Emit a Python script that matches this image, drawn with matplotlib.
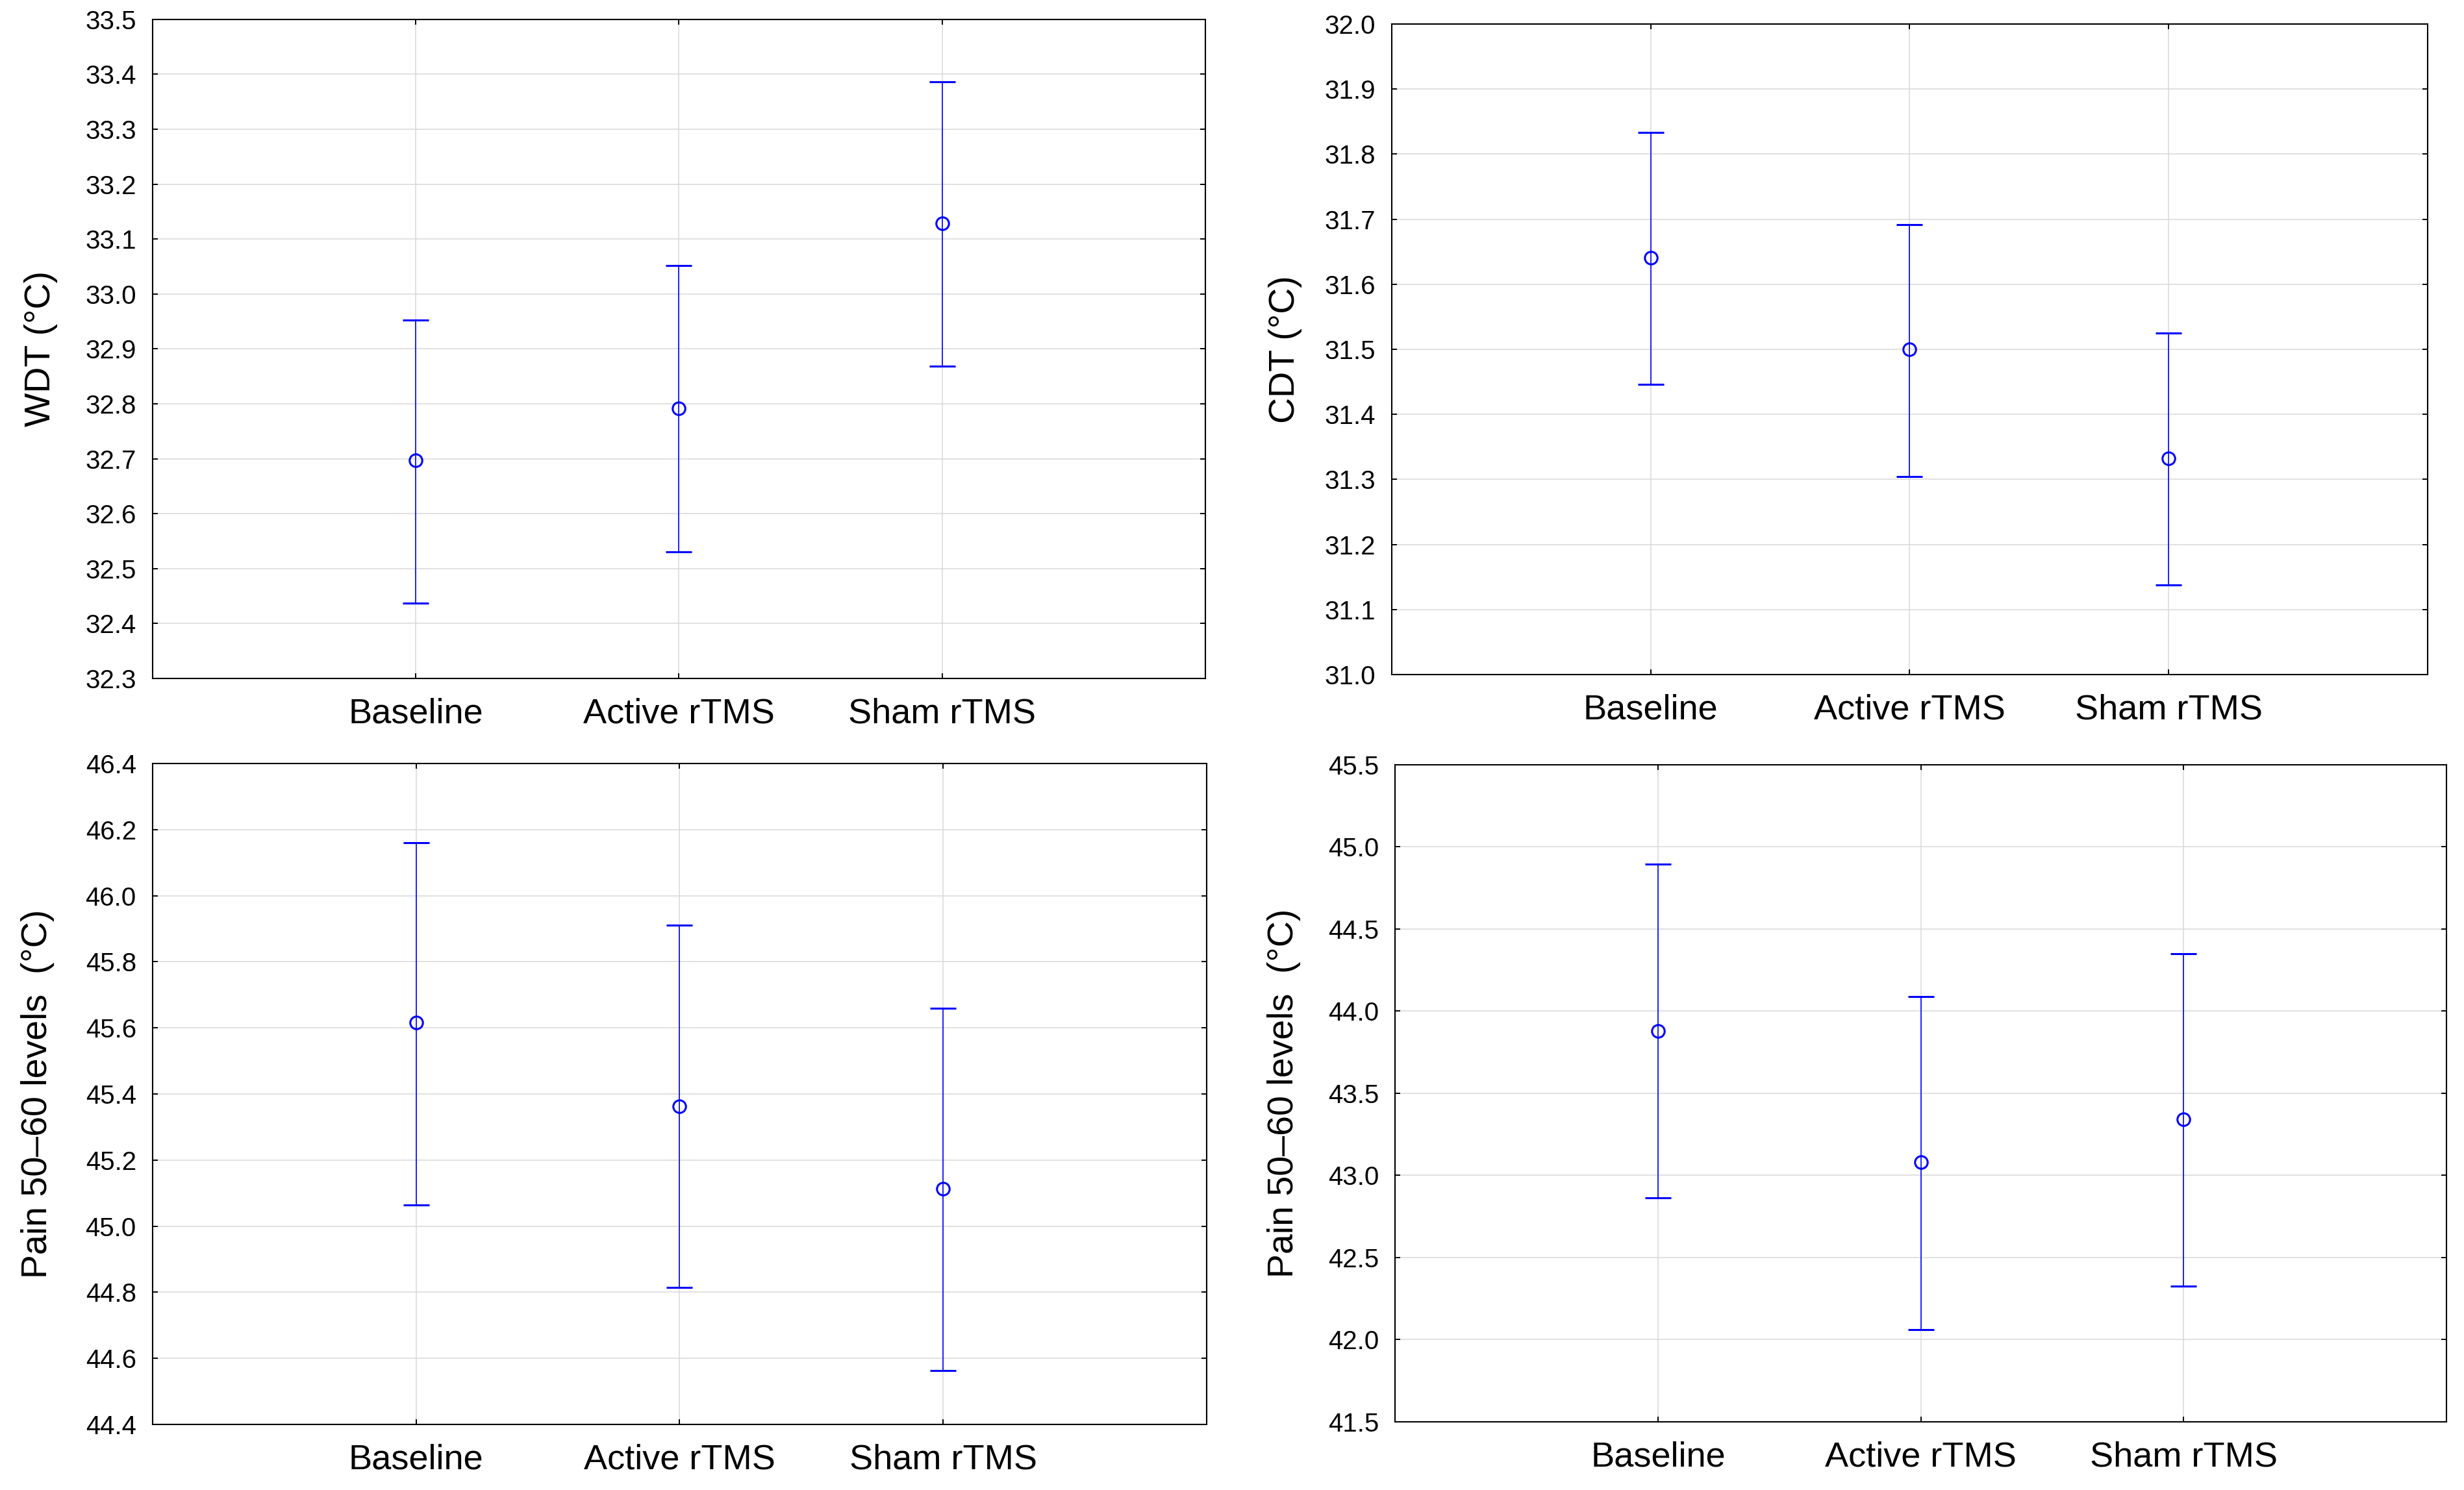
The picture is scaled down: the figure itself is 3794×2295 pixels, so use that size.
import matplotlib
matplotlib.use("Agg")
import matplotlib.pyplot as plt
import numpy as np

plt.rcParams['font.family'] = ['Liberation Sans', 'DejaVu Sans']

groups = ["Baseline", "Active rTMS", "Sham rTMS"]

# means and 95% CI bounds
wdt_mean = [32.697, 32.792, 33.129]
wdt_low = [32.437, 32.531, 32.869]
wdt_high = [32.953, 33.052, 33.386]

cdt_mean = [31.641, 31.500, 31.332]
cdt_low = [31.446, 31.304, 31.138]
cdt_high = [31.833, 31.692, 31.525]

pain1_mean = [45.616, 45.363, 45.114]
pain1_low = [45.064, 44.815, 44.564]
pain1_high = [46.161, 45.910, 45.659]

pain2_mean = [43.878, 43.082, 43.343]
pain2_low = [42.865, 42.060, 42.326]
pain2_high = [44.895, 44.087, 44.350]

panels = [
    # rect, mean, low, high, ylabel, ylim, ystep, label x
    ([0.0619, 0.5447, 0.4273, 0.4423], wdt_mean, wdt_low, wdt_high,
     "WDT (°C)", (32.3, 33.5), 0.1, -0.106),
    ([0.5648, 0.5473, 0.4204, 0.4366], cdt_mean, cdt_low, cdt_high,
     "CDT (°C)", (31.0, 32.0), 0.1, -0.103),
    ([0.0619, 0.0440, 0.4278, 0.4436], pain1_mean, pain1_low, pain1_high,
     "Pain 50\u201360 levels  (°C)", (44.4, 46.4), 0.2, -0.109),
    ([0.5662, 0.0458, 0.4267, 0.4410], pain2_mean, pain2_low, pain2_high,
     "Pain 50\u201360 levels  (°C)", (41.5, 45.5), 0.5, -0.106),
]

fig = plt.figure(figsize=(37.94, 22.95), dpi=100)

for rect, mean, low, high, ylab, ylim, ystep, lx in panels:
    ax = fig.add_axes(rect)
    x = np.arange(1, len(groups) + 1)
    mean = np.array(mean)
    err = np.array([mean - np.array(low), np.array(high) - mean])
    ax.errorbar(x, mean, yerr=err, fmt='o', color='#0000ff', ecolor='#0000ff',
                elinewidth=1.2, capsize=14.5, capthick=1.2,
                markersize=14, markeredgewidth=2.2, markerfacecolor='none',
                zorder=3)
    ax.set_xlim(0, 4)
    ax.set_ylim(*ylim)
    yt = np.arange(ylim[0], ylim[1] + ystep / 2, ystep)
    ax.set_yticks(yt)
    ax.set_yticklabels(["%.1f" % v for v in yt], fontsize=29)
    ax.set_xticks(x)
    ax.set_xticklabels(groups, fontsize=39)
    ax.grid(True, color='#d9d9d9', linewidth=1.1, zorder=0)
    ax.set_axisbelow(True)
    ax.tick_params(axis='both', direction='in', top=True, right=True,
                   length=6, width=1.4, color='black')
    ax.tick_params(axis='y', pad=18)
    ax.tick_params(axis='x', pad=21)
    for s in ax.spines.values():
        s.set_linewidth(1.5)
        s.set_color('black')
    ax.set_ylabel(ylab, fontsize=40, va='center')
    ax.yaxis.set_label_coords(lx, 0.5)

fig.savefig("out.png", dpi=100)
